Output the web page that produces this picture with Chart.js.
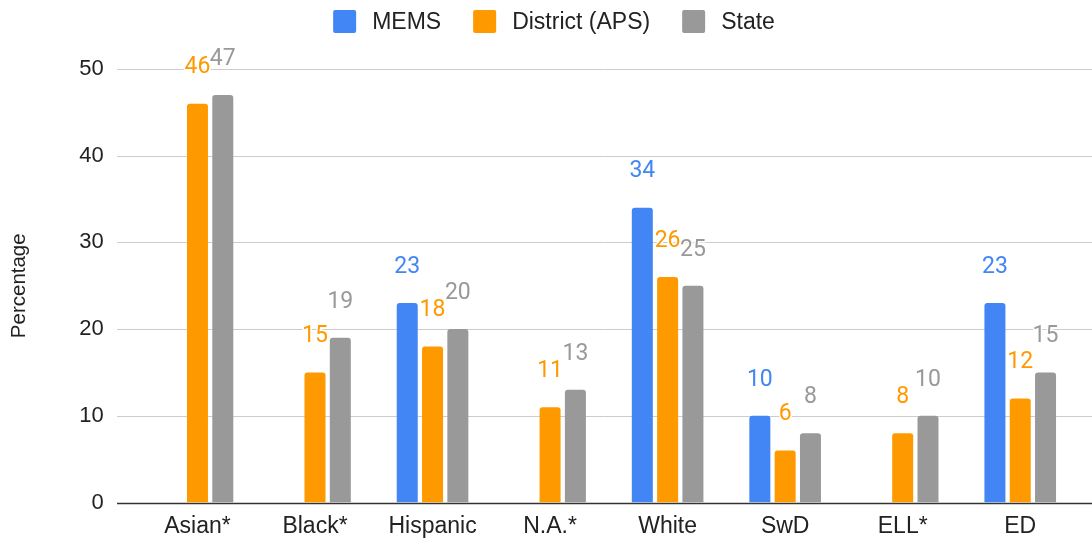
<!DOCTYPE html>
<html>
<head>
<meta charset="utf-8">
<script src="https://cdn.jsdelivr.net/npm/chart.js@4"></script>
<style>
  html, body { margin: 0; padding: 0; background: #fff; }
  canvas { display: block; }
</style>
</head>
<body>
<canvas id="myChart" width="1092" height="540"></canvas>
<script>
var categories = ['Asian*', 'Black*', 'Hispanic', 'N.A.*', 'White', 'SwD', 'ELL*', 'ED'];
var memsValues = [null, null, 23, null, 34, 10, null, 23];
var districtValues = [46, 15, 18, 11, 26, 6, 8, 12];
var stateValues = [47, 19, 20, 13, 25, 8, 10, 15];
var yTicks = [0, 10, 20, 30, 40, 50];

var TEXT_FONT = '"Liberation Sans", Arial, sans-serif';
var LABEL_FONT = 'Roboto, Arial, sans-serif';

// grid lines run wider than the bar area, like the sheets chart
var gridPlugin = {
    id: 'wideGrid',
    beforeDatasetsDraw: function(chart) {
        var c = chart.ctx;
        var y = chart.scales.y;
        c.save();
        yTicks.forEach(function(t) {
            var py = Math.round(y.getPixelForValue(t)) + 0.5;
            c.beginPath();
            c.strokeStyle = t === 0 ? '#333333' : '#cccccc';
            c.lineWidth = t === 0 ? 1.5 : 1;
            c.moveTo(117, py);
            c.lineTo(1092, py);
            c.stroke();
        });
        c.restore();
    }
};

// value labels above each bar, with a white halo
var labelPlugin = {
    id: 'barLabels',
    afterDatasetsDraw: function(chart) {
        var c = chart.ctx;
        c.save();
        c.font = '23px ' + LABEL_FONT;
        c.textAlign = 'center';
        c.textBaseline = 'middle';
        c.lineJoin = 'round';
        chart.data.datasets.forEach(function(ds, i) {
            var meta = chart.getDatasetMeta(i);
            meta.data.forEach(function(bar, j) {
                var v = ds.data[j];
                if (v === null || v === undefined) return;
                c.strokeStyle = '#ffffff';
                c.lineWidth = 3;
                c.strokeText(String(v), bar.x, bar.y - 36);
                c.fillStyle = ds.backgroundColor;
                c.fillText(String(v), bar.x, bar.y - 36);
            });
        });
        c.restore();
    }
};

// legend drawn by hand so the box/text gaps match
var legendPlugin = {
    id: 'topLegend',
    afterDraw: function(chart) {
        var c = chart.ctx;
        var box = 23, gapText = 16, gapItem = 32;
        c.save();
        c.font = '23px ' + TEXT_FONT;
        c.textBaseline = 'middle';
        var items = chart.data.datasets.map(function(ds) {
            return { text: ds.label, color: ds.backgroundColor, w: c.measureText(ds.label).width };
        });
        var total = 0;
        items.forEach(function(it, i) {
            total += box + gapText + it.w + (i ? gapItem : 0);
        });
        var x = 554 - total / 2;
        var cy = 21.5;
        items.forEach(function(it) {
            c.fillStyle = it.color;
            c.beginPath();
            c.roundRect(x, cy - box / 2, box, box, 2);
            c.fill();
            c.fillStyle = '#222222';
            c.fillText(it.text, x + box + gapText, cy + 1);
            x += box + gapText + it.w + gapItem;
        });
        c.restore();
    }
};

var ctx = document.getElementById('myChart').getContext('2d');
var chart = new Chart(ctx, {
    type: 'bar',
    data: {
        labels: categories,
        datasets: [{
            label: 'MEMS',
            backgroundColor: '#4285f4',
            data: memsValues
        }, {
            label: 'District (APS)',
            backgroundColor: '#ff9900',
            data: districtValues
        }, {
            label: 'State',
            backgroundColor: '#999999',
            data: stateValues
        }]
    },
    options: {
        responsive: false,
        animation: false,
        layout: { padding: { left: 0, right: 13, top: 69, bottom: 0 } },
        datasets: {
            bar: {
                categoryPercentage: 0.646,
                barPercentage: 0.83,
                borderRadius: 3
            }
        },
        plugins: {
            tooltip: { enabled: false },
            legend: { display: false }
        },
        scales: {
            x: {
                grid: { display: false, drawTicks: false },
                border: { display: false },
                ticks: {
                    color: '#222222',
                    padding: 10,
                    maxRotation: 0,
                    font: { family: TEXT_FONT, size: 23 }
                },
                afterFit: function(s) { s.height = 37.5; }
            },
            y: {
                min: 0,
                max: 50,
                grid: { display: false, drawTicks: false },
                border: { display: false },
                afterBuildTicks: function(s) {
                    s.ticks = yTicks.map(function(v) { return { value: v }; });
                },
                ticks: {
                    color: '#222222',
                    padding: 35,
                    font: { family: TEXT_FONT, size: 22 }
                },
                title: {
                    display: true,
                    text: 'Percentage',
                    color: '#222222',
                    padding: { top: 7, bottom: 0 },
                    font: { family: TEXT_FONT, size: 20.5 }
                },
                afterFit: function(s) {
                    s.width = 138.7;
                    // the big label padding should not push the plot area in
                    s.paddingTop = 0;
                    s.paddingBottom = 0;
                }
            }
        }
    },
    plugins: [gridPlugin, labelPlugin, legendPlugin]
});
</script>
</body>
</html>
